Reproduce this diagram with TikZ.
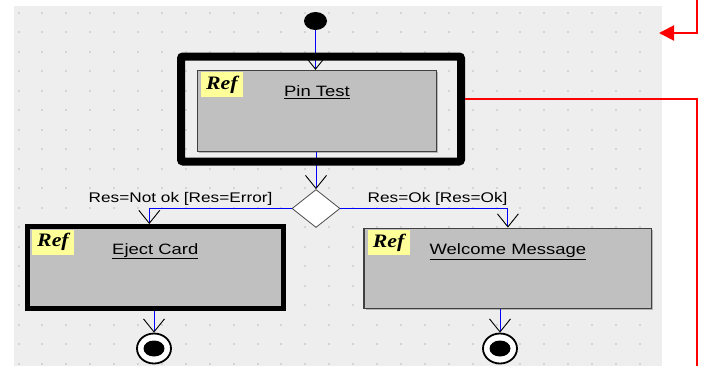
\documentclass[tikz,border=0pt]{standalone}
\usepackage{fontspec}
\newfontfamily\umlfont{Liberation Sans}[FakeStretch=1.23]
\newfontfamily\tagfont{Liberation Serif}[FakeStretch=1.15]
\usetikzlibrary{positioning, arrows.meta, shapes.geometric, shadows}
\definecolor{panelgray}{HTML}{EEEEEE}
\definecolor{dotgray}{HTML}{D4D4D4}
\definecolor{boxgray}{HTML}{C0C0C0}
\definecolor{refyellow}{HTML}{FFFF99}
\definecolor{flowblue}{HTML}{0000FF}
\definecolor{linkred}{HTML}{FF0000}
\tikzstyle{actbox} = [rectangle, draw=black!75, line width=1.3pt, fill=boxgray, inner sep=0pt,
drop shadow={shadow xshift=1.5pt, shadow yshift=-1.5pt, opacity=0.5}]
\tikzstyle{thickbox} = [actbox, draw=black, line width=5pt]
\tikzstyle{refframe} = [rectangle, draw=black, line width=8pt, rounded corners=2pt]
\tikzstyle{reftag} = [anchor=north west, fill=refyellow, minimum width=42pt, minimum height=25pt,
inner sep=0pt, xshift=4pt, yshift=-2.3pt, font=\tagfont\bfseries\itshape\fontsize{19}{19}\selectfont]
\tikzstyle{boxtitle} = [anchor=north, inner sep=0pt, yshift=-16pt, font=\umlfont\fontsize{15}{17}\selectfont]
\tikzstyle{guard} = [font=\umlfont\fontsize{14}{16}\selectfont, inner sep=3pt]
\tikzstyle{startdot} = [ellipse, fill=black, minimum width=23pt, minimum height=18pt, inner sep=0pt]
\tikzstyle{endmark} = [ellipse, draw=black, line width=1.8pt, fill=white, minimum width=34pt,
minimum height=30pt, inner sep=0pt,
path picture={\fill[black] (path picture bounding box.center) ellipse [x radius=10.5pt, y radius=8pt];}]
\tikzstyle{choice} = [diamond, draw=black!70, fill=white, line width=0.8pt, minimum width=48pt,
minimum height=38pt, inner sep=0pt]
\tikzstyle{flow} = [draw=flowblue, line width=1pt, -{Straight Barb[length=13pt, width=21pt, black, line width=0.9pt]}]
\tikzstyle{reflink} = [draw=linkred, line width=2pt]

\begin{document}
\begin{tikzpicture}[x=1pt, y=-1pt, node distance=90pt]
    \useasboundingbox (0,0) rectangle (704,365);
    % panel with grid dots
    \fill[panelgray] (13.5,6) rectangle (661.7,366);
    \foreach \i in {0,...,26}
        \foreach \j in {0,...,18}
            \fill[dotgray] (17.5+23.9*\i, 11.7+19.5*\j) rectangle ++(2,2);

    \node (start) [startdot] at (315.5,21) {};
    \node (pintest) [actbox, minimum width=239.4pt, minimum height=81pt, below of=start, xshift=1.5pt,
        label={[reftag]north west:Ref}, label={[boxtitle]north:\underline{Pin Test}}] {};
    \node (decision) [choice, below of=pintest, yshift=-7.5pt, xshift=-1pt] {};
    \node (eject) [thickbox, minimum width=255.5pt, minimum height=82pt, below of=decision, yshift=31pt, xshift=-160.7pt,
        label={[reftag, xshift=2.7pt, yshift=-3.2pt]north west:Ref},
        label={[boxtitle, yshift=-3pt]north:\underline{Eject Card}}] {};
    \node (welcome) [actbox, minimum width=287.7pt, minimum height=80.6pt, below of=decision, yshift=30pt, xshift=191.9pt,
        label={[reftag]north west:Ref}, label={[boxtitle]north:\underline{Welcome Message}}] {};
    \node (end1) [endmark, below of=eject, yshift=9pt, xshift=-1.3pt] {};
    \node (end2) [endmark, below of=welcome, yshift=10pt, xshift=-7.9pt] {};

    \draw [flow] (start) -- (start |- pintest.north);
    \draw [flow] (decision |- pintest.south) -- (decision.north);
    \draw [flow] (decision.west) -| node[guard, pos=.39, above] {Res=Not ok [Res=Error]} ([xshift=-6pt]eject.north);
    \draw [flow] (decision.east) -| node[guard, pos=.29, above] {Res=Ok [Res=Ok]} (welcome.north);
    \draw [flow] (eject.south -| end1) -- (end1);
    \draw [flow] (welcome.south -| end2) -- (end2);

    % reference frame drawn over the flow lines
    \node (pinframe) [refframe, minimum width=280pt, minimum height=105pt, xshift=4pt, yshift=2pt] at (pintest) {};

    % links to the outer diagram
    \coordinate (looptop) at (697,0);
    \coordinate (loopin) at (659,33);
    \coordinate (loopout) at (697,366);
    \draw [reflink, -{Triangle[length=15pt, width=15pt]}] (looptop) |- (loopin);
    \draw [reflink] ([yshift=10.5pt]pinframe.east) -| (loopout);
\end{tikzpicture}
\end{document}
